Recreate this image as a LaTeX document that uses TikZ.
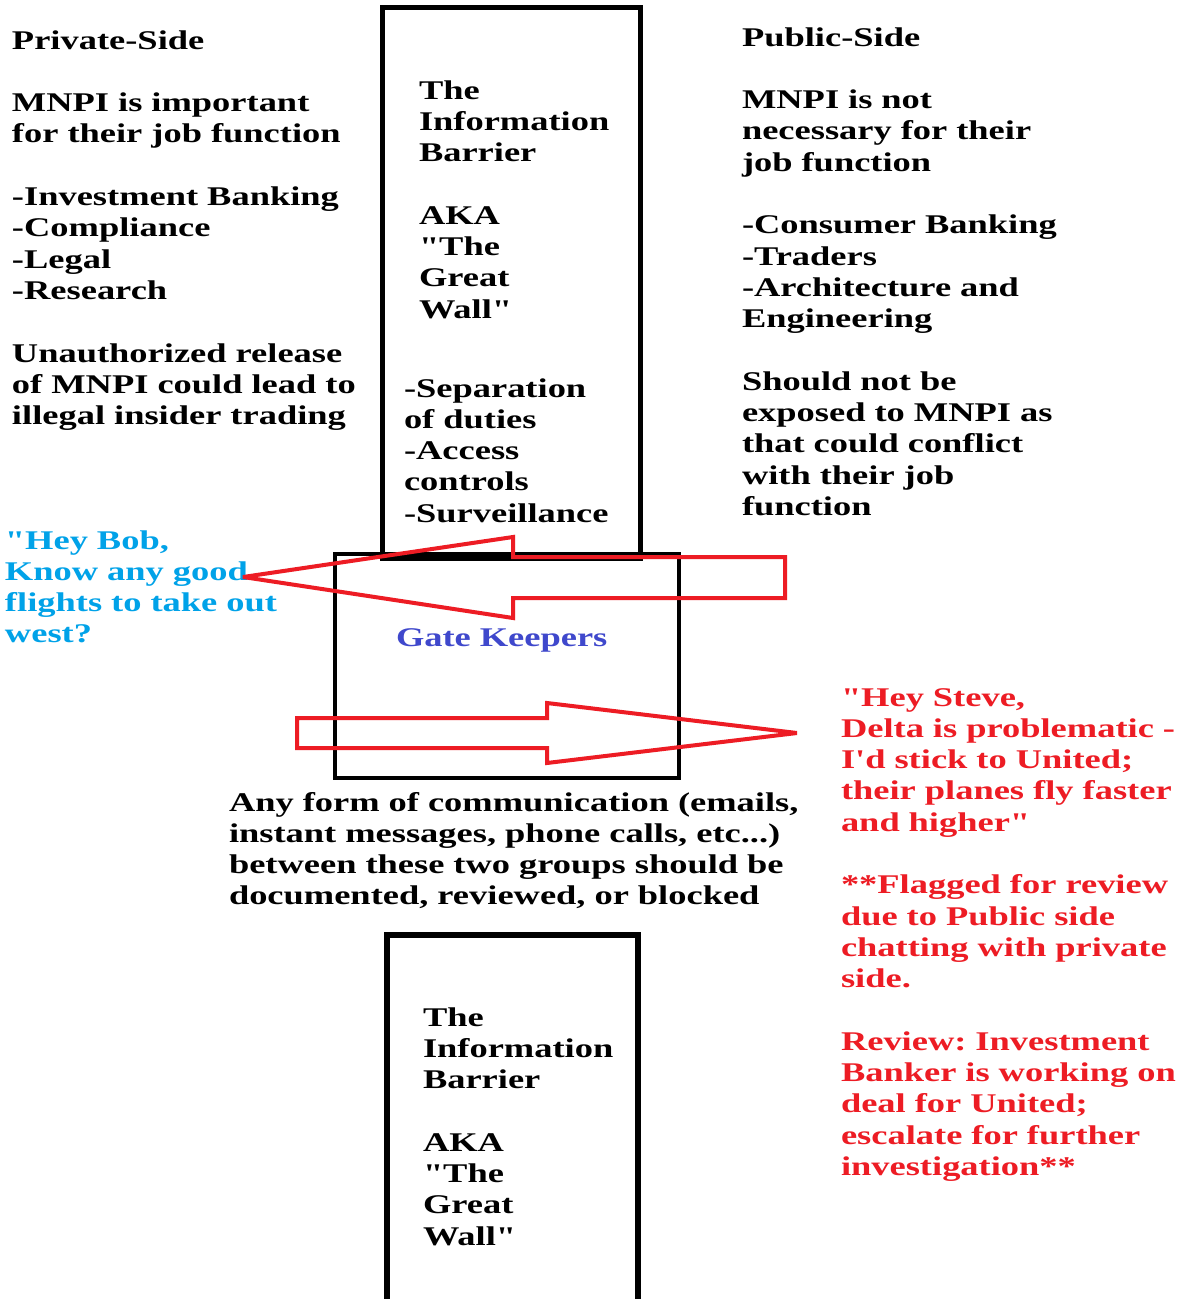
\documentclass[tikz,border=0pt]{standalone}
\usepackage{fontspec}
\newfontfamily\widefont{Liberation Serif}[FakeStretch=1.35]
\definecolor{paintred}{RGB}{237,28,36}
\definecolor{paintblue}{RGB}{0,162,232}
\definecolor{paintindigo}{RGB}{63,72,204}
\frenchspacing
\begin{document}
\begin{tikzpicture}[x=1pt,y=-1pt,
  txt/.style={anchor=base west, inner sep=0pt, outer sep=0pt, align=left, text width=#1,
    font=\widefont\bfseries\fontsize{27}{31.3}\selectfont\frenchspacing},
  txt/.default=420pt,
  wallbox/.style={draw=black, line width=5pt, inner sep=0pt},
  redarrow/.style={draw=paintred, line width=4pt, line join=miter, miter limit=5}]
\useasboundingbox (0,0) rectangle (1183,1299);
\fill[white] (0,0) rectangle (1183,1299);

% boxes
\node[wallbox, minimum width=258pt, minimum height=551pt] (wall) at (511,282.5) {};
\node[wallbox, line width=4pt, minimum width=344pt, minimum height=224pt] (gate) at (506.5,666) {};
\coordinate (wallbotL) at (387,1299);
\coordinate (wallbotR) at (638,1299);
\draw[line width=6.5pt, line join=miter] (wallbotL) |- (638,935) -- (wallbotR);

% texts
\node[txt] (private) at (12,49) {Private-Side\\[31.3pt]
MNPI is important\\ for their job function\\[31.3pt]
-Investment Banking\\ -Compliance\\ -Legal\\ -Research\\[31.3pt]
Unauthorized release\\ of MNPI could lead to\\ illegal insider trading};

\node[txt=210pt] (walltext) at (419,99) {The\\ Information\\ Barrier\\[31.3pt]
AKA\\ "The\\ Great\\ Wall"};

\node[txt=230pt] (controls) at (404,397) {-Separation\\ of duties\\ -Access\\ controls\\ -Surveillance};

\node[txt] (public) at (742,46) {Public-Side\\[31.3pt]
MNPI is not\\ necessary for their\\ job function\\[31.3pt]
-Consumer Banking\\ -Traders\\ -Architecture and\\ Engineering\\[31.3pt]
Should not be\\ exposed to MNPI as\\ that could conflict\\ with their job\\ function};

\node[txt, text=paintblue] (bob) at (5,549) {"Hey Bob,\\ Know any good\\ flights to take out\\ west?};

\node[txt=230pt, text=paintindigo] (gatelabel) at (396,646) {Gate Keepers};

\node[txt=600pt] (comm) at (229,811) {Any form of communication (emails,\\ instant messages, phone calls, etc...)\\ between these two groups should be\\ documented, reviewed, or blocked};

\node[txt=345pt, text=paintred] (steve) at (841,706) {"Hey Steve,\\ Delta is problematic -\\ I'd stick to United;\\ their planes fly faster\\ and higher"\\[31.3pt]
**Flagged for review\\ due to Public side\\ chatting with private\\ side.\\[31.3pt]
Review: Investment\\ Banker is working on\\ deal for United;\\ escalate for further\\ investigation**};

\node[txt=210pt] (walltext2) at (423,1026) {The\\ Information\\ Barrier\\[31.3pt]
AKA\\ "The\\ Great\\ Wall"};

% arrows
\draw[redarrow] (243,577) -- (513,537) -- (513,557) -- (785,557) -- (785,598) -- (513,598) -- (513,618) -- cycle;
\draw[redarrow] (297,718) -- (547,718) -- (547,703) -- (797,733) -- (547,763) -- (547,748) -- (297,748) -- cycle;
\end{tikzpicture}
\end{document}
